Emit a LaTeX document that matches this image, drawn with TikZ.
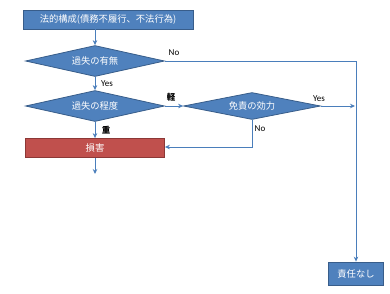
\documentclass[tikz,border=0pt]{standalone}
\usepackage{fontspec}
\setmainfont{Carlito}
\newfontfamily\jp{Noto Sans CJK JP}
\usetikzlibrary{shapes.geometric,arrows.meta}
\definecolor{bfill}{HTML}{4F81BD}
\definecolor{bdraw}{HTML}{385D8A}
\definecolor{rfill}{HTML}{C0504D}
\definecolor{rdraw}{HTML}{8C3836}
\definecolor{conn}{HTML}{4A7EBB}
\tikzset{
  bbox/.style={rectangle, fill=bfill, draw=bdraw, line width=0.8pt, text=white, inner sep=0pt, font=\jp\fontsize{9.3}{10}\selectfont},
  rbox/.style={rectangle, fill=rfill, draw=rdraw, line width=0.8pt, text=white, inner sep=0pt, font=\jp\fontsize{9.3}{10}\selectfont},
  dia/.style={diamond, fill=bfill, draw=bdraw, line width=0.8pt, text=white, inner sep=0pt, aspect=4.5, font=\jp\fontsize{9.3}{10}\selectfont},
  conline/.style={draw=conn, line width=1pt},
  conarrow/.style={conline, -{Stealth[length=5pt,width=4.5pt]}},
  lbl/.style={font=\fontsize{9}{10}\selectfont, inner sep=1pt},
  jlbl/.style={font=\jp\bfseries\fontsize{8.5}{9}\selectfont, inner sep=1pt}
}
\begin{document}
\begin{tikzpicture}[x=1pt,y=-1pt]
\useasboundingbox (0,0) rectangle (390,293);
\node[bbox, minimum width=170pt, minimum height=19pt] (top) at (108,19.5) {法的構成(債務不履行、不法行為)};
\node[dia, minimum width=139pt, minimum height=31pt] (d1) at (95,61) {過失の有無};
\node[dia, minimum width=139pt, minimum height=31pt] (d2) at (95,106) {過失の程度};
\node[dia, minimum width=137pt, minimum height=27pt] (d3) at (252,106) {免責の効力};
\node[rbox, minimum width=139pt, minimum height=19pt] (red) at (95,148) {損害};
\node[bbox, minimum width=55pt, minimum height=23pt] (res) at (356,273.5) {責任なし};
\coordinate (c1) at (356,61);
\coordinate (c2) at (355,106);
\coordinate (c3) at (252,147);
\coordinate (c4) at (95,174);
\draw[conarrow] (d1.north |- top.south) -- (d1.north);
\draw[conarrow] (d1.east) -- (c1) -- (res.north);
\draw[conarrow] (d1.south) -- (d2.north);
\draw[conarrow] (d2.south) -- (red.north);
\draw[conarrow] (d2.east) -- (d3.west);
\draw[conarrow] (d3.east) -- (c2);
\draw[conarrow] (d3.south) -- (c3) -- (c3 -| red.east);
\draw[conarrow] (red.south) -- (c4);
\node[lbl] (lno1) at (174,53) {No};
\node[lbl] (lyes1) at (107,84) {Yes};
\node[jlbl] (lkei) at (171,97) {軽};
\node[lbl] (lyes2) at (319,98.5) {Yes};
\node[lbl] (lno2) at (260,129) {No};
\node[jlbl] (lju) at (106,130) {重};
\end{tikzpicture}
\end{document}
